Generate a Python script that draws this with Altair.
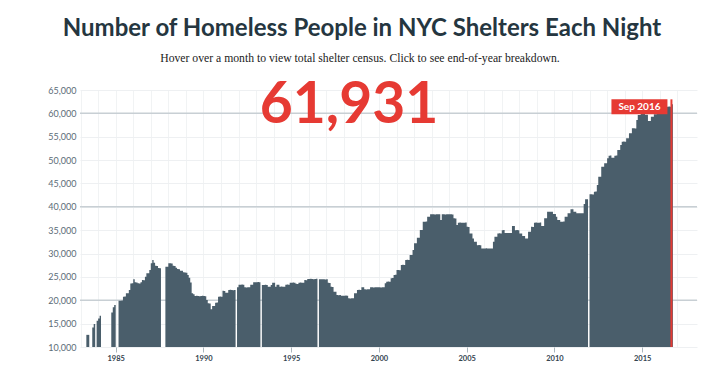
import altair as alt
import pandas as pd

# ---- monthly shelter census (None = no data that month) ----
y1983 = [None, None, None, None, 12600, 12600, None, None, 14200, 14900, None, 15600]
y1984 = [16100, 16700, None, None, None, None, None, None, None, 17400, 18500, 19000]
y1985 = [None, None, 19900, 19900, 19950, 20760, 20800, 21480, 21500, 22200, 23600, 23630]
y1986 = [24490, 23850, 23800, 23630, 23600, 23850, 24340, 24300, 25040, 25760, 25800, 26480]
y1987 = [27900, 28600, 28040, 27400, 27350, 26900, 26850, None, None, None, 27180, 27200]
y1988 = [27900, 27950, 27850, 27400, 27350, 26970, 26690, 26650, 26330, 26300, 25980, 25950]
y1989 = [25900, 25400, 24800, 23800, 21500, 21300, 20900, 20950, 20900, 20850, 20900, 20950]
y1990 = [20900, 20850, 20060, 19350, 19300, 18070, 18770, 18800, 19480, 19500, 20760, 20800]
y1991 = [20760, 22040, 22000, 21620, 21600, 22200, 22250, 22200, 22150, 22200, None, 22780]
y1992 = [23330, 23300, 23350, 23330, 22780, 22750, 22800, 22780, 23330, 23300, 23850, 23880]
y1993 = [23850, 23900, 23850, None, 23270, 23250, 23300, 23270, 22900, 22900, 23270, 23760]
y1994 = [23760, 22900, 23330, 23300, 22900, 22950, 22900, 22880, 23330, 23350, 23300, 23760]
y1995 = [23760, 23780, 23760, 23550, 23500, 23760, 23800, 23760, 23740, 24340, 24300, 24550]
y1996 = [24550, 24600, 24550, 24500, 24550, 24580, None, 24490, 24500, 24480, 24490, 24450]
y1997 = [24490, 23760, 23700, 22900, 22850, 21830, 21800, 21130, 21100, 21150, 20980, 20950]
y1998 = [20980, 21000, 20950, 20420, 20400, 20450, 20420, 21490, 21500, 22200, 22250, 22200]
y1999 = [22780, 22800, 22350, 22300, 22350, 22380, 22780, 22800, 22750, 22780, 22800, 22780]
y2000 = [22780, 22750, 22800, 22780, 23630, 23970, 24000, 23950, 24700, 24750, 25410, 25450]
y2001 = [26480, 26500, 26450, 27550, 27600, 27550, 28620, 28650, 28600, 29690, 29700, 30760]
y2002 = [32190, 32200, 33390, 33400, 35040, 35050, 36810, 36800, 36850, 37880, 37900, 38390]
y2003 = [38390, 38400, 38380, 38390, 38400, 38390, 37180, 38390, 38400, 38380, 38390, 38400]
y2004 = [38390, 38400, 38380, 37540, 37500, 36110, 36600, 36650, 36600, 36580, 36600, 36620]
y2005 = [35720, 35700, 34300, 34280, 33230, 32520, 32500, 31800, 31820, 31780, 31100, 31080]
y2006 = [31100, 31120, 31100, 31080, 31100, 31100, 32520, 33600, 33620, 34300, 34320, 34280]
y2007 = [35000, 35020, 34400, 34420, 34380, 34400, 34420, 35900, 35880, 35000, 35020, 34980]
y2008 = [34300, 34280, 33750, 33730, 33230, 33200, 34660, 34680, 35720, 35700, 36600, 36620]
y2009 = [36600, 36580, 36620, 35900, 35880, 37540, 37560, 38950, 38970, 38940, 38950, 38460]
y2010 = [38460, 37880, 37180, 37160, 36820, 36800, 36840, 37880, 37900, 38610, 38630, 39470]
y2011 = [39470, 38950, 38930, 38610, 38630, 38600, 38620, 38610, 40600, 41610, 41630, None]
y2012 = [42670, 42690, 42650, 43240, 43260, 44670, 46440, 46460, 48580, 48600, 49300, 49320]
y2013 = [50370, 50940, 50960, 50500, 50520, 50940, 50960, 52160, 52180, 53230, 53940, 53960]
y2014 = [53940, 54650, 54670, 55720, 55740, 56790, 56810, 56780, 58580, 59650, 59670, 60010]
y2015 = [60030, 60010, 59700, 59720, 58360, 58340, 59280, 59300, 59800, 59820, 60220, 60240]
y2016 = [60220, 60240, 60210, 60720, 60740, 61430, 61450, 61420, 61931]

years = list(range(1983, 2017))
series = [y1983, y1984, y1985, y1986, y1987, y1988, y1989, y1990, y1991, y1992,
          y1993, y1994, y1995, y1996, y1997, y1998, y1999, y2000, y2001, y2002,
          y2003, y2004, y2005, y2006, y2007, y2008, y2009, y2010, y2011, y2012,
          y2013, y2014, y2015, y2016]

y_ticks = [10000, 15000, 20000, 25000, 30000, 35000, 40000, 45000, 50000, 55000, 60000, 65000]
major_lines = [20000, 40000, 60000]

TITLE = "Number of Homeless People in NYC Shelters Each Night"
SUBTITLE = "Hover over a month to view total shelter census. Click to see end-of-year breakdown."

BAR = "#4a5e6b"
RED = "#e63a33"
INK = "#253640"

# Build step-area runs: each run of consecutive months is its own area; a run is
# closed with a point at the end of its last month carrying the same value.
rows = []
run = 0
open_run = False
last_val = None
last_end = None
for yr, vals in zip(years, series):
    for i, v in enumerate(vals):
        start = pd.Timestamp(year=yr, month=i + 1, day=1)
        end = start + pd.DateOffset(months=1)
        if v is None:
            if open_run:
                rows.append({"date": last_end.strftime("%Y-%m-%d"), "census": last_val, "run": run})
                run += 1
                open_run = False
            continue
        rows.append({"date": start.strftime("%Y-%m-%d"), "census": v, "run": run})
        open_run = True
        last_val = v
        last_end = end
if open_run:
    rows.append({"date": last_end.strftime("%Y-%m-%d"), "census": last_val, "run": run})
df = pd.DataFrame(rows)

final_month = pd.Timestamp(year=2016, month=len(y2016), day=1)
last_label = final_month.strftime("%b %Y")
last_value = f"{y2016[-1]:,}"

hl = pd.DataFrame({"start": [final_month.strftime("%Y-%m-%d")], "top": [63000], "bottom": [10000],
                   "box_top": [63000], "box_bottom": [59800], "mid": [61400],
                   "label": [last_label]})

xscale = alt.Scale(type="utc",
                   domain=[alt.DateTime(year=1982, month=12, date=20, utc=True),
                           alt.DateTime(year=2018, month=2, date=15, utc=True)])
yscale = alt.Scale(domain=[10000, 65000], zero=False, nice=False)

x_axis = alt.Axis(
    values=[alt.DateTime(year=y, month=1, date=1, utc=True) for y in range(1983, 2018)],
    labelExpr="utcyear(datum.value) % 5 == 0 ? utcFormat(datum.value, '%Y') : ''",
    tickOpacity={"condition": {"test": "utcyear(datum.value) % 5 == 0", "value": 1}, "value": 0},
    tickColor="#aab5bc", tickSize=5, domain=False, grid=True, gridColor="#f1f3f4",
    labelFont="Lato", labelFontSize=7.5, labelFontWeight="bold", labelColor="#34444f",
    labelPadding=2, labelOverlap=False, labelFlush=False, title=None,
)
y_axis = alt.Axis(values=y_ticks, format=",d", ticks=False, domain=False,
                  labelFont="Lato", labelFontSize=9, labelColor="#5b6b77",
                  labelPadding=4, labelOverlap=False, gridColor="#eef0f2", title=None)

majors = alt.Chart(pd.DataFrame({"v": major_lines})).mark_rule(
    color="#c8cfd4", strokeWidth=1.5).encode(
    y=alt.Y("v:Q", scale=yscale, axis=y_axis))

bars = alt.Chart(df).mark_area(color=BAR, interpolate="step-after", opacity=1).encode(
    x=alt.X("date:T", scale=xscale, axis=x_axis),
    y=alt.Y("census:Q", scale=yscale, axis=y_axis),
    y2=alt.datum(10000),
    detail="run:N",
)

hl_base = alt.Chart(hl)
hl_rule = hl_base.mark_rule(color=RED, strokeWidth=2).encode(
    x=alt.X("start:T", scale=xscale, axis=x_axis),
    y=alt.Y("top:Q", scale=yscale, axis=y_axis), y2="bottom:Q")
hl_box = hl_base.mark_rect(color=RED, xOffset=-60, x2Offset=-4).encode(
    x=alt.X("start:T", scale=xscale, axis=x_axis), x2="start:T",
    y=alt.Y("box_top:Q", scale=yscale, axis=y_axis), y2="box_bottom:Q")
hl_text = hl_base.mark_text(color="white", font="Lato", fontWeight="bold", fontSize=10,
                            dx=-32, baseline="middle", align="center").encode(
    x=alt.X("start:T", scale=xscale, axis=x_axis),
    y=alt.Y("mid:Q", scale=yscale, axis=y_axis), text="label:N")

texts = pd.DataFrame({"title": [TITLE], "sub": [SUBTITLE], "big": [last_value]})
tbase = alt.Chart(texts)
title = tbase.mark_text(font="Lato", fontWeight="bold", fontSize=24, color=INK,
                        align="center", baseline="alphabetic").encode(
    text="title:N", x=alt.value(282), y=alt.value(-54))
sub = tbase.mark_text(font="Liberation Serif", fontSize=11.7, color="#222222",
                      align="center", baseline="alphabetic").encode(
    text="sub:N", x=alt.value(280), y=alt.value(-28))
big = tbase.mark_text(font="Lato", fontWeight="bold", fontSize=57, color=RED,
                      align="center", baseline="alphabetic").encode(
    text="big:N", x=alt.value(269), y=alt.value(33))

chart = alt.layer(majors, bars, hl_rule, hl_box, hl_text, title, sub, big).properties(
    width=617, height=257,
    autosize=alt.AutoSizeParams(type="none"),
    padding={"left": 72, "top": 82, "right": 15, "bottom": 20},
).configure_view(stroke=None).configure_axis(labelOverlap=False)

chart.save("out.html", embed_options={"renderer": "svg", "actions": False})
